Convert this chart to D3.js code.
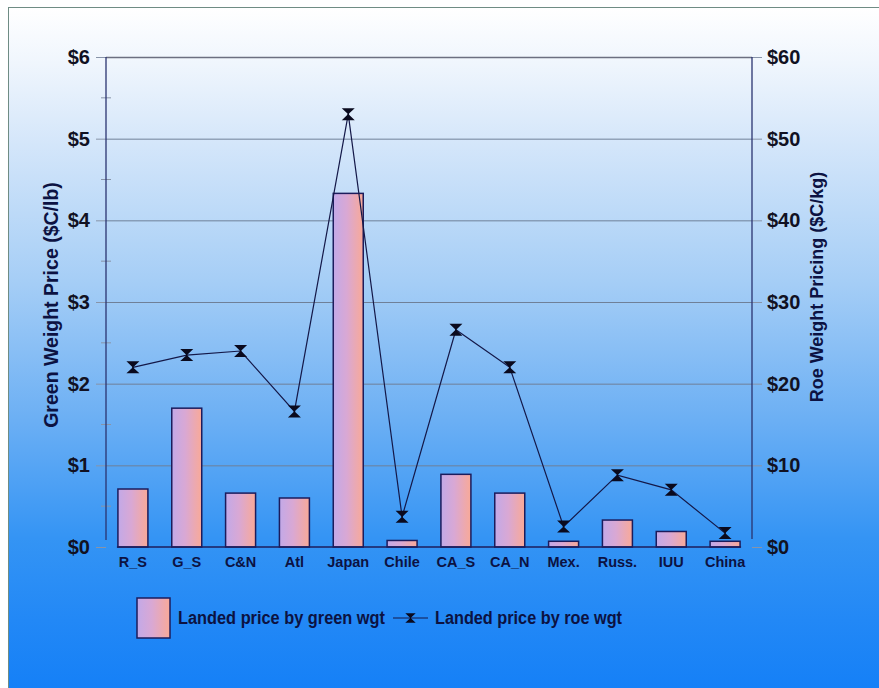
<!DOCTYPE html>
<html>
<head>
<meta charset="utf-8">
<script src="https://cdn.jsdelivr.net/npm/d3@7"></script>
<style>
  html, body { margin: 0; padding: 0; background: #ffffff; }
  svg { display: block; font-family: Arial, "Liberation Sans", sans-serif; }
</style>
</head>
<body>
<svg id="chart" width="879" height="688"></svg>
<script>
// Landed prices by fishery / origin
const categories = ["R_S", "G_S", "C&N", "Atl", "Japan", "Chile", "CA_S", "CA_N", "Mex.", "Russ.", "IUU", "China"];
// Landed price by green weight ($C/lb, left axis)
const greenPrice = [0.71, 1.70, 0.66, 0.60, 4.33, 0.08, 0.89, 0.66, 0.07, 0.33, 0.19, 0.07];
// Landed price by roe weight ($C/kg, right axis)
const roePrice = [22.0, 23.5, 24.0, 16.6, 53.0, 3.7, 26.6, 22.0, 2.5, 8.8, 7.0, 1.7];
const leftTicks = [0, 1, 2, 3, 4, 5, 6];
const leftMinorTicks = [0.5, 1.5, 2.5, 3.5, 4.5, 5.5];
const rightTicks = [0, 10, 20, 30, 40, 50, 60];
const seriesNames = ["Landed price by green wgt", "Landed price by roe wgt"];
const axisTitles = ["Green Weight Price ($C/lb)", "Roe Weight Pricing ($C/kg)"];

const svg = d3.select("#chart");
const W = 879, H = 688;
const plot = { left: 106, right: 752, top: 57, bottom: 547 };
const ink = "#0c1242";

const defs = svg.append("defs");

// page background: white at the top fading into a saturated blue
const bg = defs.append("linearGradient").attr("id", "bgGrad")
  .attr("x1", 0).attr("y1", 0).attr("x2", 0).attr("y2", 1);
[[0, "#ffffff"], [0.08, "#f0f6fd"], [0.2, "#d4e6fa"], [0.4, "#a6cef6"],
 [0.6, "#6db0f4"], [0.78, "#3494f4"], [0.9, "#2288f6"], [1, "#1580f7"]]
  .forEach(([o, c]) => bg.append("stop").attr("offset", o).attr("stop-color", c));

// bar fill: lavender on the left to salmon on the right
const barGrad = defs.append("linearGradient").attr("id", "barGrad")
  .attr("x1", 0).attr("y1", 0).attr("x2", 1).attr("y2", 0);
[[0, "#c2a9e8"], [0.45, "#d9a8d4"], [1, "#f9a997"]]
  .forEach(([o, c]) => barGrad.append("stop").attr("offset", o).attr("stop-color", c));

svg.append("rect").attr("x", 8.5).attr("y", 7.5).attr("width", W - 8).attr("height", H - 7)
  .attr("fill", "url(#bgGrad)").attr("stroke", "#6f8c84").attr("stroke-width", 1);

// scales
const x = d3.scaleBand().domain(categories)
  .range([plot.left, plot.right]).paddingInner(0.443).paddingOuter(0.2215);
const yL = d3.scaleLinear().domain([0, 6]).range([plot.bottom, plot.top]);
const yR = d3.scaleLinear().domain([0, 60]).range([plot.bottom, plot.top]);

// horizontal gridlines
const grid = svg.append("g").attr("transform", `translate(${plot.left},0)`)
  .call(d3.axisLeft(yL).tickValues(leftTicks.filter(d => d > 0))
    .tickSize(-(plot.right - plot.left)).tickFormat(""));
grid.select(".domain").remove();
grid.selectAll(".tick line").attr("stroke", d => d === 6 ? "#6c6f80" : "#6f8098")
  .attr("stroke-width", d => d === 6 ? 1.6 : 1);

// left axis
const gL = svg.append("g").attr("transform", `translate(${plot.left},0)`)
  .call(d3.axisLeft(yL).tickValues(leftTicks).tickSize(10).tickPadding(6)
    .tickFormat(d => "$" + d));
gL.select(".domain").remove();
gL.selectAll(".tick line").attr("stroke", "#8894a8");
gL.selectAll(".tick text").attr("fill", "#111122").attr("font-size", 20)
  .attr("font-weight", "bold");

// left minor ticks crossing the axis
svg.append("g").selectAll("line").data(leftMinorTicks).join("line")
  .attr("x1", plot.left - 5).attr("x2", plot.left + 5)
  .attr("y1", d => yL(d)).attr("y2", d => yL(d))
  .attr("stroke", "#8894a8");

// right axis
const gR = svg.append("g").attr("transform", `translate(${plot.right},0)`)
  .call(d3.axisRight(yR).tickValues(rightTicks).tickSize(10).tickPadding(5)
    .tickFormat(d => "$" + d));
gR.select(".domain").remove();
gR.selectAll(".tick line").attr("stroke", "#8894a8");
gR.selectAll(".tick text").attr("fill", "#111122").attr("font-size", 20)
  .attr("font-weight", "bold");

// axis lines
svg.append("line").attr("x1", plot.left).attr("x2", plot.left)
  .attr("y1", plot.top).attr("y2", plot.bottom - 7).attr("stroke", "#2a3470").attr("stroke-width", 1.3);
svg.append("line").attr("x1", plot.right).attr("x2", plot.right)
  .attr("y1", plot.top).attr("y2", plot.bottom - 8).attr("stroke", "#2a3470").attr("stroke-width", 1.3);

// bars
svg.append("g").selectAll("rect").data(categories).join("rect")
  .attr("x", d => x(d))
  .attr("y", (d, i) => yL(greenPrice[i]))
  .attr("width", x.bandwidth())
  .attr("height", (d, i) => yL(0) - yL(greenPrice[i]))
  .attr("fill", "url(#barGrad)")
  .attr("stroke", "#1c1c5c").attr("stroke-width", 1.5);

// baseline
svg.append("line").attr("x1", x(categories[0]) - 1).attr("x2", x(categories[11]) + x.bandwidth() + 1)
  .attr("y1", plot.bottom).attr("y2", plot.bottom)
  .attr("stroke", "#1c1c5c").attr("stroke-width", 1.5);

// category labels
const gX = svg.append("g").attr("transform", `translate(0,${plot.bottom})`)
  .call(d3.axisBottom(x).tickSize(0).tickPadding(10));
gX.select(".domain").remove();
gX.selectAll(".tick text").attr("fill", ink).attr("font-size", 14.5)
  .attr("font-weight", "bold");

// roe weight line with hourglass markers
const cx = d => x(d) + x.bandwidth() / 2;
const hourglass = "M-6.5,-6 L6.5,-6 L0.8,-0.6 L0.8,0.6 L6.5,6 L-6.5,6 L-0.8,0.6 L-0.8,-0.6 Z";
svg.append("path")
  .datum(categories)
  .attr("d", d3.line().x(d => cx(d)).y((d, i) => yR(roePrice[i])))
  .attr("fill", "none").attr("stroke", "#141848").attr("stroke-width", 1.2);
svg.append("g").selectAll("path").data(categories).join("path")
  .attr("transform", (d, i) => `translate(${cx(d)},${yR(roePrice[i])})`)
  .attr("d", hourglass).attr("fill", "#0a0a1e");

// axis titles
svg.append("text").attr("transform", "translate(58,305) rotate(-90)")
  .attr("text-anchor", "middle").attr("font-size", 19.5).attr("font-weight", "bold")
  .attr("fill", ink).text(axisTitles[0]);
svg.append("text").attr("transform", "translate(823,287) rotate(-90)")
  .attr("text-anchor", "middle").attr("font-size", 18).attr("font-weight", "bold")
  .attr("fill", ink).text(axisTitles[1]);

// legend
const lg = svg.append("g");
lg.append("rect").attr("x", 137).attr("y", 598).attr("width", 33).attr("height", 40)
  .attr("fill", "url(#barGrad)").attr("stroke", "#1c1c5c").attr("stroke-width", 1.5);
lg.append("text").attr("x", 178).attr("y", 624).attr("font-size", 18)
  .attr("font-weight", "bold").attr("fill", ink)
  .attr("textLength", 207).attr("lengthAdjust", "spacingAndGlyphs").text(seriesNames[0]);
lg.append("line").attr("x1", 393).attr("x2", 428).attr("y1", 618).attr("y2", 618)
  .attr("stroke", "#141848").attr("stroke-width", 1.2);
lg.append("path").attr("transform", "translate(410.5,618) scale(0.8)")
  .attr("d", hourglass).attr("fill", "#0a0a1e");
lg.append("text").attr("x", 435).attr("y", 624).attr("font-size", 18)
  .attr("font-weight", "bold").attr("fill", ink)
  .attr("textLength", 187).attr("lengthAdjust", "spacingAndGlyphs").text(seriesNames[1]);
</script>
</body>
</html>
